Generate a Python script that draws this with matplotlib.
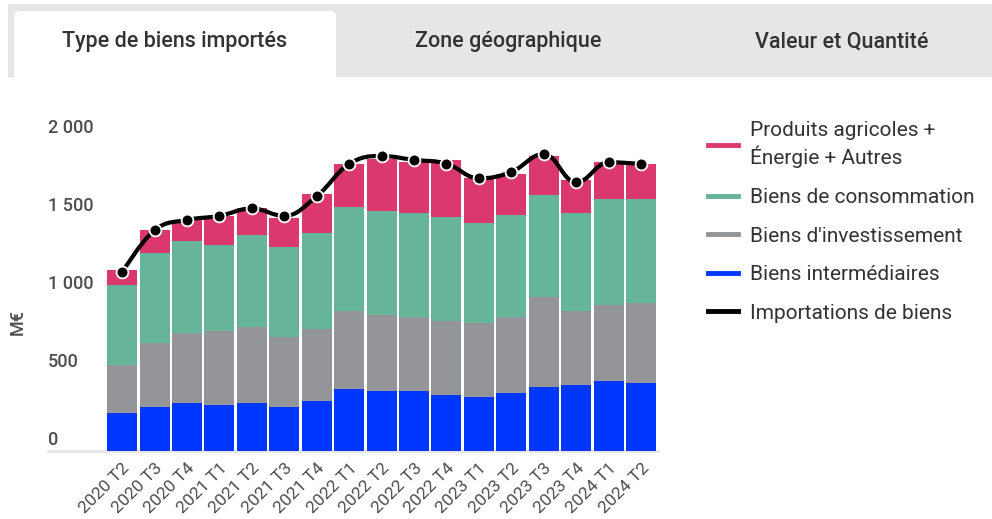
import matplotlib
matplotlib.use("Agg")
import matplotlib.pyplot as plt
from matplotlib.lines import Line2D
from matplotlib.path import Path
from matplotlib.patches import PathPatch, Rectangle, FancyBboxPatch
from matplotlib.transforms import IdentityTransform, blended_transform_factory, offset_copy

plt.rcParams["font.family"] = ["Roboto", "DejaVu Sans"]

# data (M€)
quarters = ["2020 T2", "2020 T3", "2020 T4", "2021 T1", "2021 T2", "2021 T3", "2021 T4",
            "2022 T1", "2022 T2", "2022 T3", "2022 T4", "2023 T1", "2023 T2", "2023 T3",
            "2023 T4", "2024 T1", "2024 T2"]
intermediaires = [244, 280, 306, 293, 306, 280, 319, 395, 383, 383, 357, 344, 370, 408, 421, 447, 434]
investissement = [305, 410, 448, 474, 487, 449, 461, 501, 487, 474, 474, 475, 487, 577, 475, 487, 512]
consommation = [513, 576, 590, 551, 589, 576, 615, 666, 667, 667, 667, 641, 654, 654, 628, 679, 667]
agri_energie = [96, 149, 135, 187, 171, 187, 251, 276, 335, 327, 366, 288, 263, 250, 211, 238, 225]
importations = [1143, 1413, 1479, 1505, 1553, 1505, 1631, 1838, 1889, 1864, 1840, 1746, 1787, 1902, 1720, 1849, 1838]

y_ticks = [0, 500, 1000, 1500, 2000]
y_tick_labels = ["0", "500", "1 000", "1 500", "2 000"]

c_pink = "#db386d"
c_green = "#66b59b"
c_gray = "#939598"
c_blue = "#0037ff"
txt = "#4d4d4d"


def spline_path(xs, ys, smoothing=1.5):
    # same control points as a Highcharts "spline" series
    n = len(xs)
    den = smoothing + 1
    left = [None] * n
    right = [None] * n
    for i in range(1, n - 1):
        x, y = xs[i], ys[i]
        px, py = xs[i - 1], ys[i - 1]
        nx, ny = xs[i + 1], ys[i + 1]
        lcx, lcy = (smoothing * x + px) / den, (smoothing * y + py) / den
        rcx, rcy = (smoothing * x + nx) / den, (smoothing * y + ny) / den
        if rcx != lcx:
            corr = ((rcy - lcy) * (rcx - x)) / (rcx - lcx) + y - rcy
            lcy += corr
            rcy += corr
        if lcy > py and lcy > y:
            lcy = max(py, y)
            rcy = 2 * y - lcy
        elif lcy < py and lcy < y:
            lcy = min(py, y)
            rcy = 2 * y - lcy
        if rcy > ny and rcy > y:
            rcy = max(ny, y)
            lcy = 2 * y - rcy
        elif rcy < ny and rcy < y:
            rcy = min(ny, y)
            lcy = 2 * y - rcy
        left[i] = (lcx, lcy)
        right[i] = (rcx, rcy)
    verts = [(xs[0], ys[0])]
    codes = [Path.MOVETO]
    for i in range(1, n):
        c1 = right[i - 1] or (xs[i - 1], ys[i - 1])
        c2 = left[i] or (xs[i], ys[i])
        verts += [c1, c2, (xs[i], ys[i])]
        codes += [Path.CURVE4] * 3
    return Path(verts, codes)


W, H = 992, 519
fig = plt.figure(figsize=(W / 100, H / 100), dpi=100)

# tab bar
fig.add_artist(Rectangle((8, H - 77), W - 8, 73, transform=IdentityTransform(),
                         facecolor="#e6e6e6", edgecolor="none"))
fig.add_artist(FancyBboxPatch((14, H - 90), 322, 79, transform=IdentityTransform(),
                              boxstyle="round,pad=0,rounding_size=6",
                              facecolor="white", edgecolor="none"))
fig.add_artist(Rectangle((8, H - 110), W, 33, transform=IdentityTransform(),
                         facecolor="white", edgecolor="none"))
tabs = [("Type de biens importés", 175), ("Zone géographique", 508), ("Valeur et Quantité", 842)]
for label, cx in tabs:
    fig.text(cx / W, 1 - 42 / H, label, ha="center", va="center",
             fontsize=15.5, color="#333333", fontweight="medium")

ax = fig.add_axes([48 / W, 68.3 / H, 610 / W, 343.2 / H])
x = list(range(len(quarters)))
bw = 0.925
b1 = intermediaires
b2 = [a + b for a, b in zip(b1, investissement)]
b3 = [a + b for a, b in zip(b2, consommation)]
ax.bar(x, intermediaires, width=bw, color=c_blue, zorder=2)
ax.bar(x, investissement, bottom=b1, width=bw, color=c_gray, zorder=2)
ax.bar(x, consommation, bottom=b2, width=bw, color=c_green, zorder=2)
ax.bar(x, agri_energie, bottom=b3, width=bw, color=c_pink, zorder=2)

ax.add_patch(PathPatch(spline_path(x, importations), facecolor="none", edgecolor="black",
                       lw=3, capstyle="round", joinstyle="round", zorder=3))
ax.plot(x, importations, "o", ls="none", color="black", markersize=8.5,
        markeredgecolor="white", markeredgewidth=1.3, zorder=4, clip_on=False)

ax.set_xlim(-2.284, 16.52)
ax.set_ylim(0, 2200)
for s in ["top", "right", "left"]:
    ax.spines[s].set_visible(False)
ax.spines["bottom"].set_color("#e6e6e6")
ax.spines["bottom"].set_linewidth(2)
ax.spines["bottom"].set_zorder(1)

ax.set_yticks([])
trans = offset_copy(blended_transform_factory(ax.transAxes, ax.transData), fig=fig, x=0, y=10.7, units="dots")
for v, lab in zip(y_ticks, y_tick_labels):
    ax.text(0, v, lab, transform=trans, ha="left", va="center", fontsize=13,
            color=txt, fontweight="medium")

ax.set_xticks(x)
ax.set_xticklabels(quarters, rotation=45, ha="right", rotation_mode="anchor",
                   fontsize=12.6, color=txt)
ax.tick_params(axis="x", length=0, pad=7)

fig.text(18 / W, 1 - 322 / H, "M€", rotation=90, ha="center", va="center",
         fontsize=13, color=txt, fontweight="medium")

handles = [Line2D([], [], color=c_pink, lw=3.5),
           Line2D([], [], color=c_green, lw=3.5),
           Line2D([], [], color=c_gray, lw=3.5),
           Line2D([], [], color=c_blue, lw=3.5),
           Line2D([], [], color="black", lw=3.5)]
labels = ["Produits agricoles +\nÉnergie + Autres", "Biens de consommation",
          "Biens d'investissement", "Biens intermédiaires", "Importations de biens"]
leg = fig.legend(handles, labels, loc="upper left", bbox_to_anchor=(708 / W, 1 - 121 / H),
                 frameon=False, fontsize=15, handlelength=1.45, handletextpad=0.55,
                 labelspacing=0.94, borderpad=0, borderaxespad=0)
for t in leg.get_texts():
    t.set_color("#333333")
leg.get_texts()[0].set_linespacing(1.32)

fig.savefig("out.png", dpi=100)
